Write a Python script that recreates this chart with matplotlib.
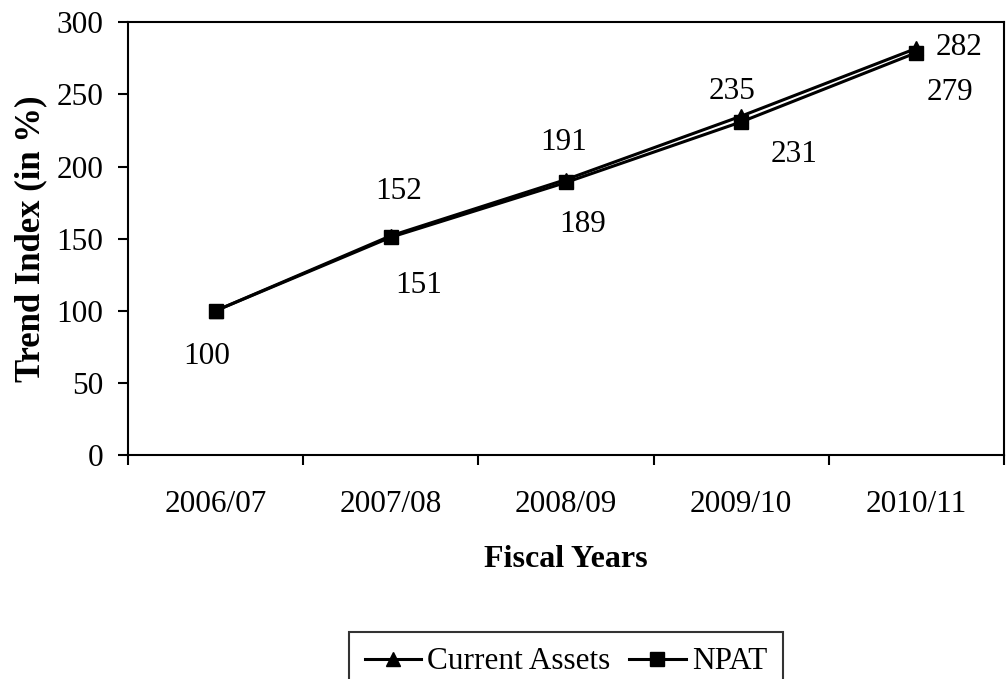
import matplotlib.pyplot as plt
from matplotlib.ticker import FixedLocator

plt.rcParams['font.family'] = ['Liberation Serif', 'DejaVu Serif']

years = ['2006/07', '2007/08', '2008/09', '2009/10', '2010/11']
current_assets = [100, 152, 191, 235, 282]
npat = [100, 151, 189, 231, 279]

# label offsets in pixels (dx, dy), dy positive = up
ca_offsets = [None, (8, 44), (-2, 37), (-9, 25), (43, 1)]
npat_offsets = [(-9, -46), (28, -48), (17, -42), (53, -33), (34, -40)]

FS = 22.5

fig = plt.figure(figsize=(10.08, 6.79), dpi=100)
ax = fig.add_axes([0.127, 0.330, 0.869, 0.637])

x = list(range(len(years)))
ax.plot(x, current_assets, color='black', lw=2.2, marker='^', ms=10,
        label='Current Assets', zorder=3)
ax.plot(x, npat, color='black', lw=2.2, marker='s', ms=10.5,
        label='NPAT', zorder=4)

px = 72 / 100
for i, v in enumerate(current_assets):
    if ca_offsets[i] is None:
        continue
    dx, dy = ca_offsets[i]
    ax.annotate(str(v), (i, v), xytext=(dx * px, dy * px), textcoords='offset points',
                ha='center', va='center', fontsize=FS)
for i, v in enumerate(npat):
    dx, dy = npat_offsets[i]
    ax.annotate(str(v), (i, v), xytext=(dx * px, dy * px), textcoords='offset points',
                ha='center', va='center', fontsize=FS)

ax.set_xlim(-0.5, len(years) - 0.5)
ax.set_ylim(0, 300)
ax.set_yticks(range(0, 301, 50))
ax.set_xticks(x)
ax.set_xticklabels(years)
ax.xaxis.set_minor_locator(FixedLocator([i - 0.5 for i in range(len(years) + 1)]))
ax.tick_params(axis='x', which='major', length=0, pad=25, labelsize=FS)
ax.tick_params(axis='x', which='minor', length=7, width=1.5, direction='out')
ax.tick_params(axis='y', length=7, width=1.5, direction='out', labelsize=FS, pad=11)
for s in ax.spines.values():
    s.set_linewidth(1.5)

ax.set_xlabel('Fiscal Years', fontsize=23, fontweight='bold', labelpad=19)
ax.set_ylabel('Trend Index (in %)', fontsize=25, fontweight='bold', labelpad=6)

# legend centred under the plot area, bottom edge runs off the figure
leg = ax.legend(loc='upper center', bbox_to_anchor=(0.5, -0.409), ncol=2, fontsize=FS,
                frameon=True, fancybox=False, edgecolor='black', handlelength=1.8,
                handletextpad=0.2, columnspacing=0.6, borderpad=0.5, borderaxespad=0)
leg.get_frame().set_linewidth(1.5)

fig.savefig('out.png', dpi=100)
